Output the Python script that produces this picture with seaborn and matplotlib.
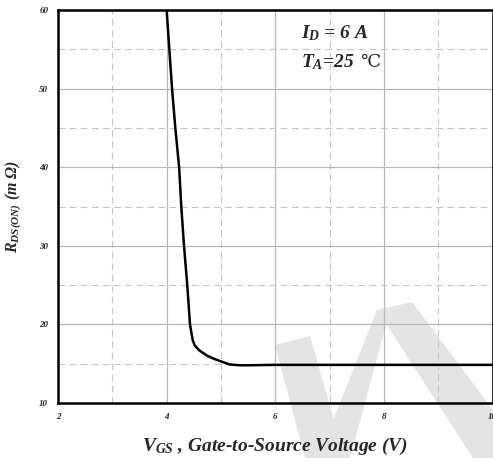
import matplotlib
matplotlib.use("Agg")
import matplotlib.pyplot as plt
from matplotlib.patches import Polygon
from matplotlib.ticker import MultipleLocator
import seaborn as sns

# R_DS(on) vs V_GS
vgs = [4.00, 4.05, 4.10, 4.16, 4.23, 4.27, 4.32, 4.38, 4.43, 4.46, 4.48,
       4.52, 4.60, 4.75, 4.88, 5.00, 5.16, 5.35, 5.50, 6.00, 7.00, 8.00, 9.00, 10.00]
rds = [60.0, 55.0, 50.0, 45.0, 40.0, 35.0, 30.0, 25.0, 20.0, 18.8, 18.0,
       17.3, 16.7, 16.0, 15.6, 15.3, 14.9, 14.8, 14.8, 14.85, 14.85, 14.85, 14.85, 14.85]

x_ticks = [2, 4, 6, 8, 10]
y_ticks = [10, 20, 30, 40, 50, 60]

# watermark outline (pixel coords of the 493x458 picture)
watermark = [
    [(275, 345), (310, 336), (345, 458), (305, 458)],
    [(377, 310), (388, 318), (350, 458), (318, 458)],
    [(377, 310), (412, 302), (493, 410), (493, 458), (473, 458)],
]

sns.set_theme(style="white")
plt.rcParams["font.family"] = ["Liberation Serif", "DejaVu Serif"]
plt.rcParams["font.weight"] = "bold"
plt.rcParams["font.style"] = "italic"
plt.rcParams["axes.labelweight"] = "bold"
plt.rcParams["mathtext.fontset"] = "custom"
plt.rcParams["mathtext.rm"] = "Liberation Serif:bold:italic"
plt.rcParams["mathtext.it"] = "Liberation Serif:bold:italic"
plt.rcParams["mathtext.bf"] = "Liberation Serif:bold:italic"

W, H = 493, 458
fig = plt.figure(figsize=(W / 100, H / 100), dpi=100)
fig.patch.set_facecolor("white")
ax = fig.add_axes([58 / W, 1 - 403 / H, (492.5 - 58) / W, (403 - 10) / H])
ax.set_facecolor("none")

for poly in watermark:
    pts = [(px / W, 1 - py / H) for px, py in poly]
    fig.patches.append(Polygon(pts, closed=True, transform=fig.transFigure,
                               facecolor="#e4e4e4", edgecolor="none", zorder=-1))

sns.lineplot(x=vgs, y=rds, sort=False, estimator=None, color="black",
             linewidth=1.8, ax=ax, zorder=5)

ax.set_xlim(2, 10)
ax.set_ylim(10, 60)
ax.set_xticks(x_ticks)
ax.set_yticks(y_ticks)
ax.xaxis.set_minor_locator(MultipleLocator(1))
ax.yaxis.set_minor_locator(MultipleLocator(5))
ax.grid(which="major", color="#b8b8b8", linewidth=0.9, linestyle="-")
ax.grid(which="minor", color="#c4c4c4", linewidth=0.8, linestyle=(0, (6, 4)))
ax.set_axisbelow(True)

ax.tick_params(which="major", direction="in", length=3, width=1.5, color="black",
               labelsize=6.5, pad=7)
ax.tick_params(which="minor", length=0)
for lab in ax.get_xticklabels() + ax.get_yticklabels():
    lab.set_fontweight("bold")
    lab.set_fontstyle("italic")

for side in ["left", "bottom", "top", "right"]:
    ax.spines[side].set_visible(True)
    ax.spines[side].set_color("black")
    ax.spines[side].set_linewidth(1.8)

ax.set_xlabel(r"$V_{GS}$ , Gate-to-Source Voltage (V)", fontsize=14,
              fontweight="bold", labelpad=11)
ax.set_ylabel(r"$R_{DS(ON)}$ $(m\ \Omega)$", fontsize=11.5,
              fontweight="bold", labelpad=11)

ax.text(0.56, 0.94, r"$I_D$ = 6 A", transform=ax.transAxes, fontsize=14,
        ha="left", va="center")
t_a = ax.text(0.56, 0.868, r"$T_A$=25", transform=ax.transAxes, fontsize=14,
              ha="left", va="center")
ax.annotate("℃", xy=(1, 0.5), xycoords=t_a, xytext=(4, 0),
            textcoords="offset points", ha="left", va="center",
            fontsize=13, family=["DejaVu Serif", "DejaVu Sans"],
            fontweight="normal", fontstyle="normal")

fig.savefig("out.png", dpi=100)
